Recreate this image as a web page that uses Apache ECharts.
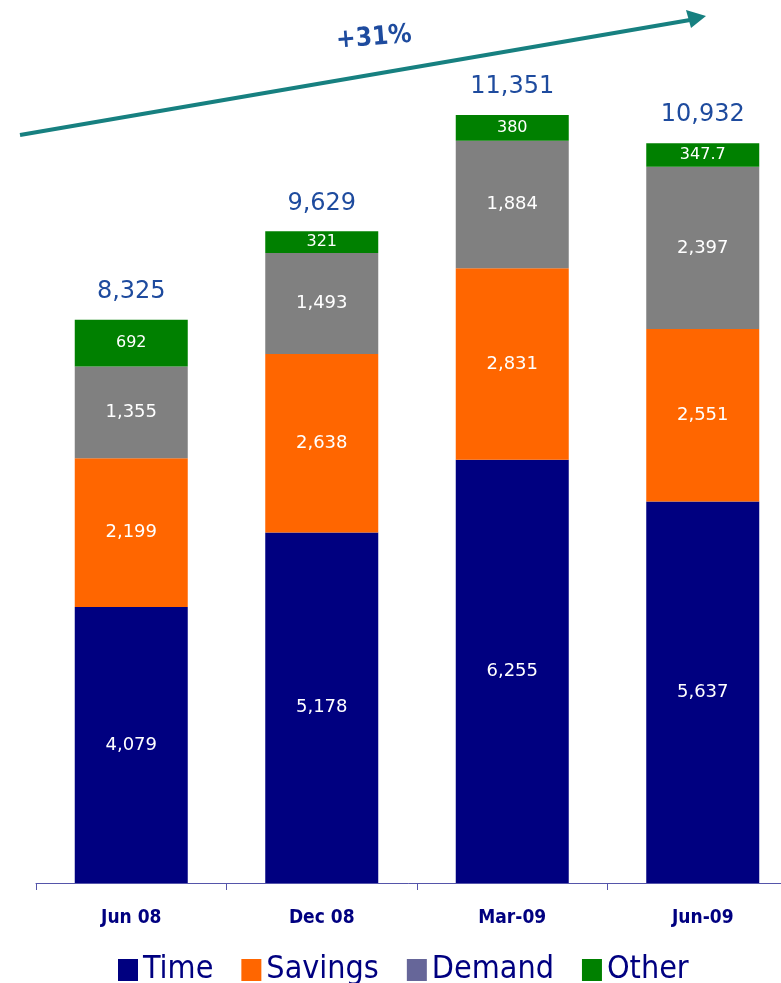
<!DOCTYPE html>
<html>
<head>
<meta charset="utf-8">
<script src="https://cdn.jsdelivr.net/npm/echarts@6/dist/echarts.min.js"></script>
<style>
  html, body { margin: 0; padding: 0; background: #fff; }
  #chart { width: 781px; height: 983px; }
</style>
</head>
<body>
<div id="chart"></div>
<script>
// Deposit mix by period
const categories = ['Jun 08', 'Dec 08', 'Mar-09', 'Jun-09'];
const timeValues = [4079, 5178, 6255, 5637];
const savingsValues = [2199, 2638, 2831, 2551];
const demandValues = [1355, 1493, 1884, 2397];
const otherValues = [692, 321, 380, 347.7];
const totals = [8325, 9629, 11351, 10932];
const growthLabel = '+31%';

const NARROW = '"DejaVu Sans Condensed", "DejaVu Sans", sans-serif';
const WIDE = '"DejaVu Sans", sans-serif';

function fmt(v) {
  if (Number.isInteger(v)) return v.toLocaleString('en-US');
  return String(v);
}

function segment(name, values, color, fontSize) {
  return {
    name: name,
    type: 'bar',
    stack: 'total',
    barWidth: 113,
    data: values,
    itemStyle: { color: color },
    label: {
      show: true,
      position: 'inside',
      color: '#ffffff',
      fontFamily: WIDE,
      fontSize: fontSize,
      formatter: p => fmt(p.value)
    }
  };
}

const chart = echarts.init(document.getElementById('chart'), null, { renderer: 'canvas' });

const series = [
  segment('Time', timeValues, '#000080', 18),
  segment('Savings', savingsValues, '#ff6600', 18),
  segment('Demand', demandValues, '#808080', 18),
  segment('Other', otherValues, '#008000', 16)
];
// totals shown above each stack
series.push({
  name: 'Total',
  type: 'bar',
  stack: 'total',
  barWidth: 113,
  data: totals.map(() => 0),
  itemStyle: { color: 'transparent' },
  label: {
    show: true,
    position: 'top',
    distance: 16,
    color: '#1e4b9e',
    fontFamily: WIDE,
    fontSize: 24,
    formatter: p => fmt(totals[p.dataIndex])
  },
  silent: true
});

chart.setOption({
  animation: false,
  backgroundColor: '#ffffff',
  grid: { left: 36, width: 762, top: 71, bottom: 100, outerBoundsMode: 'none', containLabel: false },
  legend: {
    data: [
      { name: 'Time', itemStyle: { color: '#000080' } },
      { name: 'Savings', itemStyle: { color: '#ff6600' } },
      { name: 'Demand', itemStyle: { color: '#666699' } },
      { name: 'Other', itemStyle: { color: '#008000' } }
    ],
    bottom: -8,
    left: 113,
    icon: 'rect',
    itemWidth: 20,
    itemHeight: 22,
    itemGap: 28,
    textStyle: { color: '#000080', fontSize: 32, fontFamily: NARROW }
  },
  xAxis: {
    type: 'category',
    data: categories,
    axisLine: { lineStyle: { color: '#5555aa', width: 1 } },
    axisTick: { show: true, length: 7, lineStyle: { color: '#5555aa' } },
    axisLabel: {
      color: '#000080',
      fontSize: 19,
      fontWeight: 'bold',
      fontFamily: NARROW,
      margin: 26
    }
  },
  yAxis: {
    type: 'value',
    min: 0,
    max: 12000,
    show: false,
    splitLine: { show: false }
  },
  series: series,
  graphic: [
    {
      type: 'line',
      shape: { x1: 20, y1: 135, x2: 690, y2: 20 },
      style: { stroke: '#178080', lineWidth: 4 }
    },
    {
      type: 'polygon',
      shape: { points: [[706, 16], [686, 10], [691, 28]] },
      style: { fill: '#178080' }
    },
    {
      type: 'text',
      x: 374,
      y: 38,
      rotation: 0.08,
      style: {
        text: growthLabel,
        fill: '#1e4b9e',
        font: 'bold 26px ' + NARROW,
        textAlign: 'center',
        textVerticalAlign: 'middle'
      }
    }
  ]
});
</script>
</body>
</html>
